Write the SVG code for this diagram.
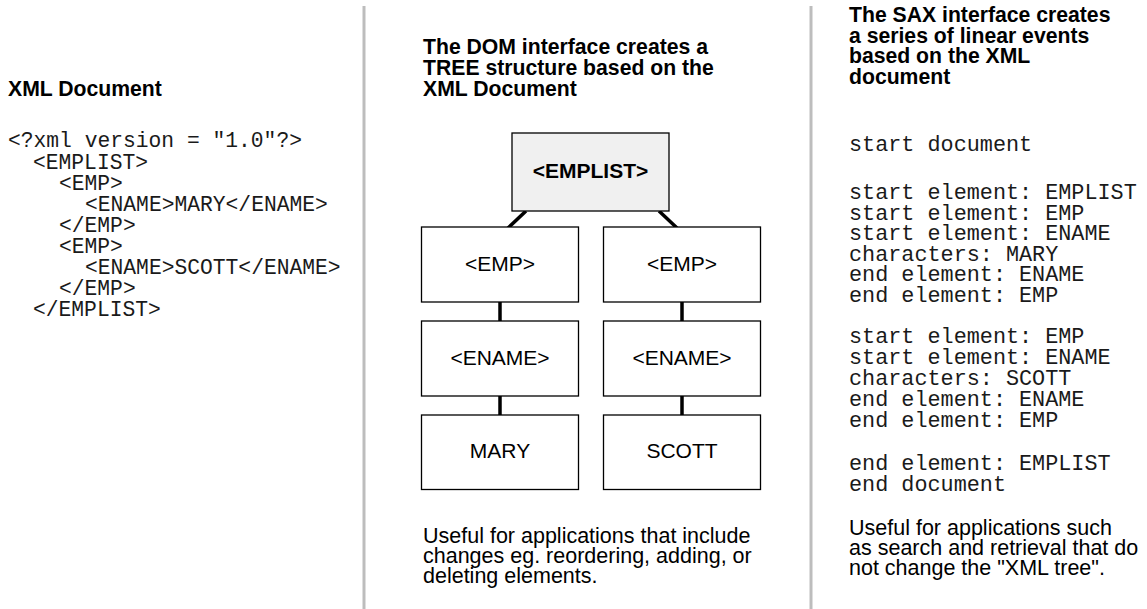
<svg xmlns="http://www.w3.org/2000/svg" width="1147" height="609" viewBox="0 0 1147 609">
<style>
.h{font-family:"Liberation Sans",Arial,sans-serif;font-weight:bold;font-size:21.2px;fill:#000}
.b{font-family:"Liberation Sans",Arial,sans-serif;font-size:21.5px;fill:#000}
.m{font-family:"Liberation Mono","Courier New",monospace;font-size:21.3px;fill:#1a1a1a}
.mr{font-size:21.8px}
.box{fill:#fff;stroke:#000;stroke-width:1.3}
.root{fill:#f0f0f0;stroke:#000;stroke-width:1.3}
.lbl{font-family:"Liberation Sans",Arial,sans-serif;font-size:21px;fill:#000;text-anchor:middle}
.sep{stroke:#bdbdbd;stroke-width:3}
.c{stroke:#000;stroke-width:3.5;fill:none}
</style>
<rect width="1147" height="609" fill="#fff"/>
<line class="sep" x1="364" y1="6" x2="364" y2="609"/>
<line class="sep" x1="811" y1="6" x2="811" y2="609"/>

<g id="xml-document">
<text class="h" x="8" y="96">XML Document</text>
<text class="m" x="8" y="147">&lt;?xml version = "1.0"?&gt;</text>
<text class="m" x="33" y="169">&lt;EMPLIST&gt;</text>
<text class="m" x="59" y="190">&lt;EMP&gt;</text>
<text class="m" x="85" y="211">&lt;ENAME&gt;MARY&lt;/ENAME&gt;</text>
<text class="m" x="59" y="232">&lt;/EMP&gt;</text>
<text class="m" x="59" y="253">&lt;EMP&gt;</text>
<text class="m" x="85" y="274">&lt;ENAME&gt;SCOTT&lt;/ENAME&gt;</text>
<text class="m" x="59" y="295">&lt;/EMP&gt;</text>
<text class="m" x="33" y="316">&lt;/EMPLIST&gt;</text>
</g>

<g id="dom-heading">
<text class="h" x="423" y="54">The DOM interface creates a</text>
<text class="h" x="423" y="75">TREE structure based on the</text>
<text class="h" x="423" y="96">XML Document</text>
</g>

<g id="connectors">
<line class="c" x1="526" y1="211" x2="508" y2="228"/>
<line class="c" x1="659" y1="211" x2="677" y2="228"/>
<line class="c" x1="500" y1="302" x2="500" y2="321"/>
<line class="c" x1="682" y1="302" x2="682" y2="321"/>
<line class="c" x1="500" y1="396" x2="500" y2="415"/>
<line class="c" x1="682" y1="396" x2="682" y2="415"/>
</g>

<g id="node-emplist">
<rect class="root" x="512" y="133" width="157" height="78"/>
<text class="lbl" x="590.5" y="178" font-weight="bold">&lt;EMPLIST&gt;</text>
</g>
<g id="node-emp1">
<rect class="box" x="421.5" y="227" width="157" height="75"/>
<text class="lbl" x="500" y="271">&lt;EMP&gt;</text>
</g>
<g id="node-emp2">
<rect class="box" x="603.5" y="227" width="157" height="75"/>
<text class="lbl" x="682" y="271">&lt;EMP&gt;</text>
</g>
<g id="node-ename1">
<rect class="box" x="421.5" y="321" width="157" height="75"/>
<text class="lbl" x="500" y="365">&lt;ENAME&gt;</text>
</g>
<g id="node-ename2">
<rect class="box" x="603.5" y="321" width="157" height="75"/>
<text class="lbl" x="682" y="365">&lt;ENAME&gt;</text>
</g>
<g id="node-mary">
<rect class="box" x="421.5" y="415" width="157" height="74.5"/>
<text class="lbl" x="500" y="458">MARY</text>
</g>
<g id="node-scott">
<rect class="box" x="603.5" y="415" width="157" height="74.5"/>
<text class="lbl" x="682" y="458">SCOTT</text>
</g>

<g id="dom-note">
<text class="b" x="423" y="543">Useful for applications that include</text>
<text class="b" x="423" y="563">changes eg. reordering, adding, or</text>
<text class="b" x="423" y="583">deleting elements.</text>
</g>

<g id="sax">
<text class="h" x="849" y="22">The SAX interface creates</text>
<text class="h" x="849" y="43">a series of linear events</text>
<text class="h" x="849" y="63">based on the XML</text>
<text class="h" x="849" y="84">document</text>
<text class="m mr" x="849" y="151">start document</text>
<text class="m mr" x="849" y="199">start element: EMPLIST</text>
<text class="m mr" x="849" y="220">start element: EMP</text>
<text class="m mr" x="849" y="240">start element: ENAME</text>
<text class="m mr" x="849" y="261">characters: MARY</text>
<text class="m mr" x="849" y="281">end element: ENAME</text>
<text class="m mr" x="849" y="302">end element: EMP</text>
<text class="m mr" x="849" y="343">start element: EMP</text>
<text class="m mr" x="849" y="364">start element: ENAME</text>
<text class="m mr" x="849" y="385">characters: SCOTT</text>
<text class="m mr" x="849" y="406">end element: ENAME</text>
<text class="m mr" x="849" y="427">end element: EMP</text>
<text class="m mr" x="849" y="470">end element: EMPLIST</text>
<text class="m mr" x="849" y="491">end document</text>
<text class="b" x="849" y="535">Useful for applications such</text>
<text class="b" x="849" y="555">as search and retrieval that do</text>
<text class="b" x="849" y="575">not change the "XML tree".</text>
</g>
</svg>
